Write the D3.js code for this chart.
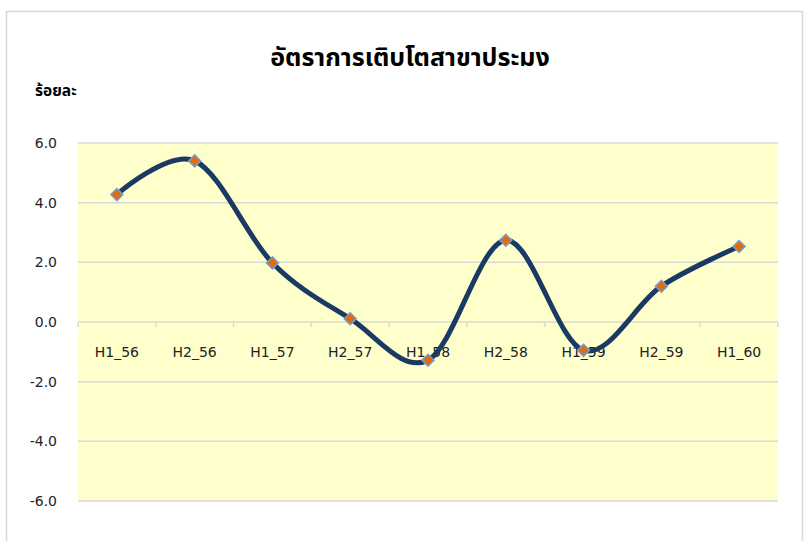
<!DOCTYPE html>
<html>
<head>
<meta charset="utf-8">
<script src="https://cdn.jsdelivr.net/npm/d3@7"></script>
<style>
  body { margin: 0; background: #fff; }
  svg { display: block; }
  .title { font-family: "Noto Sans Thai", "Noto Sans", "DejaVu Sans", sans-serif; font-weight: bold; }
  .unit { font-family: "Noto Sans Thai", "Noto Sans", "DejaVu Sans", sans-serif; font-weight: bold; }
  .tick-label { font-family: "DejaVu Sans", Verdana, sans-serif; fill: #222; }
</style>
</head>
<body>
<script>
// chart data
var categories = ["H1_56", "H2_56", "H1_57", "H2_57", "H1_58", "H2_58", "H1_59", "H2_59", "H1_60"];
var growth = [4.27, 5.40, 1.98, 0.11, -1.28, 2.74, -0.95, 1.20, 2.53];
var yTicks = [-6, -4, -2, 0, 2, 4, 6];
var titleText = "อัตราการเติบโตสาขาประมง";
var unitText = "ร้อยละ";

var W = 809, H = 541;
var plot = { left: 78, right: 778, top: 143, bottom: 501 };

var svg = d3.select("body").append("svg")
  .attr("width", W)
  .attr("height", H);

// outer chart frame
svg.append("rect")
  .attr("x", 6.5).attr("y", 11.5)
  .attr("width", 796).attr("height", H + 20)
  .attr("fill", "#fff")
  .attr("stroke", "#d9d9d9")
  .attr("stroke-width", 1.5);

var x = d3.scaleBand().domain(categories).range([plot.left, plot.right]).padding(0);
var y = d3.scaleLinear().domain([-6, 6]).range([plot.bottom, plot.top]);

// plot background
svg.append("rect")
  .attr("x", plot.left).attr("y", plot.top)
  .attr("width", plot.right - plot.left)
  .attr("height", plot.bottom - plot.top)
  .attr("fill", "#ffffcc");

// gridlines
svg.append("g").selectAll("line")
  .data(yTicks)
  .join("line")
  .attr("x1", plot.left).attr("x2", plot.right)
  .attr("y1", function (d) { return y(d); })
  .attr("y2", function (d) { return y(d); })
  .attr("stroke", "#d9d9d9")
  .attr("stroke-width", 1.5);

// y labels (plain hyphen for negatives, like the original)
svg.append("g").selectAll("text")
  .data(yTicks)
  .join("text")
  .attr("class", "tick-label")
  .attr("x", 57)
  .attr("y", function (d) { return y(d); })
  .attr("dy", "0.35em")
  .attr("text-anchor", "end")
  .style("font-size", "14px")
  .text(function (d) { return d.toFixed(1); });

// x axis tick marks at category boundaries
var bounds = categories.map(function (c) { return x(c); }).concat([plot.right]);
svg.append("g").selectAll("line")
  .data(bounds)
  .join("line")
  .attr("x1", function (d) { return d; })
  .attr("x2", function (d) { return d; })
  .attr("y1", y(0))
  .attr("y2", y(0) + 5)
  .attr("stroke", "#d9d9d9")
  .attr("stroke-width", 1.5);

// x labels
svg.append("g").selectAll("text")
  .data(categories)
  .join("text")
  .attr("class", "tick-label")
  .attr("x", function (d) { return x(d) + x.bandwidth() / 2; })
  .attr("y", y(0) + 30)
  .attr("dy", "0.35em")
  .attr("text-anchor", "middle")
  .style("font-size", "14px")
  .text(function (d) { return d; });

// smoothed line
var line = d3.line()
  .x(function (d, i) { return x(categories[i]) + x.bandwidth() / 2; })
  .y(function (d) { return y(d); })
  .curve(d3.curveCardinal.tension(0));

svg.append("path")
  .datum(growth)
  .attr("d", line)
  .attr("fill", "none")
  .attr("stroke", "#1a3a63")
  .attr("stroke-width", 5)
  .attr("stroke-linecap", "round");

// diamond markers
var diamond = d3.symbol().type(d3.symbolSquare).size(72);
svg.append("g").selectAll("path")
  .data(growth)
  .join("path")
  .attr("d", diamond)
  .attr("transform", function (d, i) {
    return "translate(" + (x(categories[i]) + x.bandwidth() / 2) + "," + y(d) + ") rotate(45)";
  })
  .attr("fill", "#e36c0a")
  .attr("stroke", "#6f9fd8")
  .attr("stroke-width", 1.5);

// title and unit
svg.append("text")
  .attr("class", "title")
  .attr("x", 410).attr("y", 66)
  .attr("text-anchor", "middle")
  .style("font-size", "25px")
  .text(titleText);

svg.append("text")
  .attr("class", "unit")
  .attr("x", 35).attr("y", 96)
  .style("font-size", "15.5px")
  .text(unitText);
</script>
</body>
</html>
